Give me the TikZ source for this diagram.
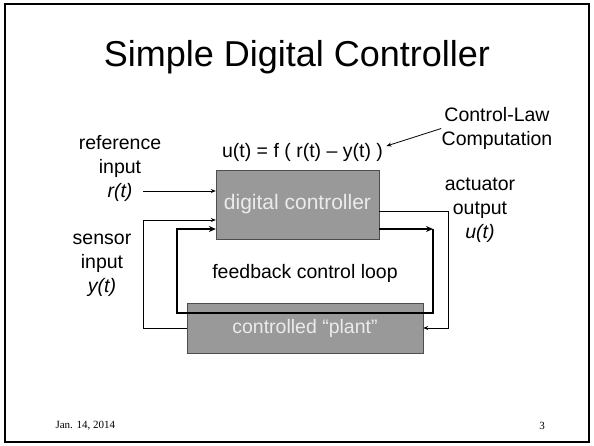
\documentclass[tikz,border=0pt]{standalone}
\usepackage{fontspec}
\setmainfont{Liberation Sans}
\newfontfamily\footfont{Liberation Serif}
\usepackage{tikz}
\usetikzlibrary{arrows.meta, calc}
\definecolor{cBox}{RGB}{153,153,153}
\definecolor{cEdge}{RGB}{77,77,77}
\definecolor{cBoxText}{RGB}{235,235,235}
\tikzset{
	blk/.style    ={rectangle, draw=cEdge, fill=cBox, text=cBoxText, align=center},
	lbl/.style    ={align=center},
	sig/.style    ={-{Stealth[length=5pt, width=4pt]}, line width=0.8pt},
	loopsig/.style={-{Stealth[length=7pt, width=6pt]}, line width=2.4pt},
}
\begin{document}
\begin{tikzpicture}[x=1pt, y=-1pt, font=\fontsize{19.5}{24}\selectfont]
	\useasboundingbox (0,0) rectangle (594,445);
	\draw[line width=1.6pt] (5,4) rectangle (589,442);
	\node[font=\fontsize{36}{40}\selectfont] (title) at (297,57) {Simple Digital Controller};
	% the two blocks
	\node[blk, minimum width=163pt, minimum height=69pt, font=\fontsize{21}{25}\selectfont] (dc) at (297.5,204.5) {digital controller};
	\node[blk, minimum width=236pt, minimum height=50pt] (pl) at (305,328) {controlled “plant”};
	\node[lbl] (fb) at (305,273) {feedback control loop};
	% labels
	\node[lbl] (ref) at (120,168) {reference\\ input\\ \textit{r(t)}};
	\node[lbl] (sens) at (102,265) {sensor\\ input\\ \textit{y(t)}};
	\node[lbl] (act) at (480,210) {actuator\\ output\\ \textit{u(t)}};
	\node (law) at (302.5,152) {u(t) = f ( r(t) – y(t) )};
	\node[lbl] (cl) at (497,128.5) {Control-Law\\ Computation};
	\draw[sig] ([xshift=3pt]cl.west) -- ([yshift=6pt]law.east);
	% signal lines
	\coordinate (rin) at (143,191);
	\coordinate (sbend) at (143,220);
	\coordinate (abend) at (448,211);
	\coordinate (lr) at (433,229);
	\coordinate (ll) at (177,313);
	\draw[sig] (rin) -- (rin -| dc.west);
	\draw[sig] (pl.west) -| (sbend) -- (sbend -| dc.west);
	\draw[sig] (abend -| dc.east) -- (abend) |- (pl.east);
	\draw[loopsig] (lr -| dc.east) -- (lr);
	\draw[loopsig] (lr) |- (ll) |- (lr -| dc.west);
	% footer
	\node[font=\footfont\fontsize{11}{13}\selectfont, anchor=west] (date) at (52,426) {Jan. 14, 2014};
	\node[font=\footfont\fontsize{11}{13}\selectfont] (pg) at (542,426) {3};
\end{tikzpicture}
\end{document}
